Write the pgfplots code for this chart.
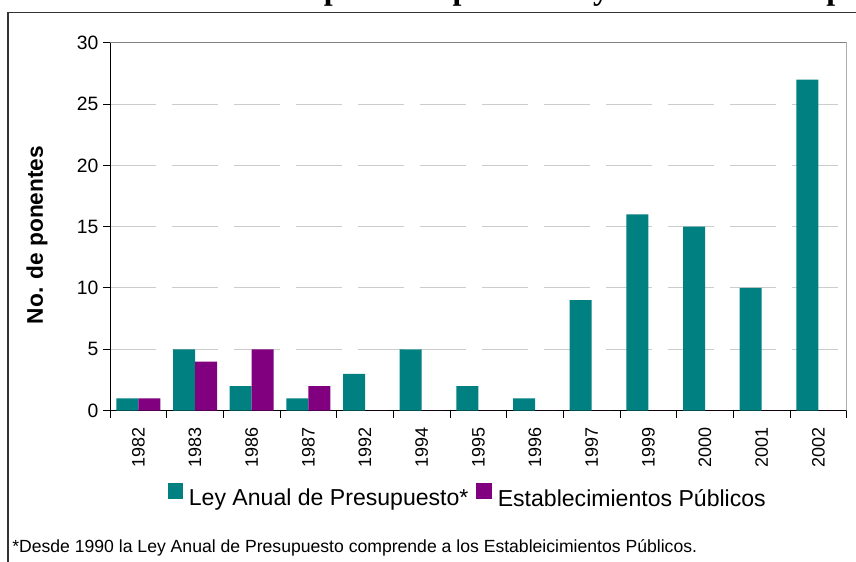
\documentclass[border=0pt]{standalone}
\usepackage{pgfplots}
\pgfplotsset{compat=1.18}
\usepackage{fontspec}
\setmainfont{Liberation Sans}
\newfontfamily\titlefont{Liberation Serif}
\definecolor{tealbar}{HTML}{008080}
\definecolor{purpbar}{HTML}{800080}
\begin{document}
\begin{tikzpicture}
\useasboundingbox (0,0) rectangle (642pt,-420.75pt);
\clip (0,0) rectangle (642pt,-420.75pt);
\node[anchor=base west, inner sep=0pt, font=\titlefont\bfseries\fontsize{24pt}{28pt}\selectfont] at (10.5pt,0.6pt) {Gráfico 1: Número de ponentes para la Ley Anual de Presupuesto};
\draw[line width=1pt, black!80] (6pt,-450pt) -- (6pt,-9.4pt) -- (700pt,-9.4pt);
\begin{axis}[
  at={(82.5pt,-307.9pt)}, anchor=south west,
  scale only axis, width=552.5pt, height=275.8pt,
  xmin=-0.5, xmax=12.5, ymin=0, ymax=30,
  ybar=0pt, bar width=16.5pt,
  axis x line*=bottom, axis y line*=left,
  axis line style={black, line width=0.75pt, -},
  xtick={-0.5,0.5,...,12.5}, xticklabels={},
  extra x ticks={0,1,2,3,4,5,6,7,8,9,10,11,12},
  extra x tick labels={1982,1983,1986,1987,1992,1994,1995,1996,1997,1999,2000,2001,2002},
  extra x tick style={tick style={draw=none}},
  ytick={0,5,...,30},
  tick align=outside, major tick length=5.25pt,
  tick style={black, line width=0.75pt},
  ymajorgrids,
  y grid style={draw=gray!40, line width=0.75pt, dash pattern=on 34.5pt off 12pt},
  xticklabel style={rotate=90, anchor=east, inner xsep=7.5pt, font=\fontsize{13.5pt}{15pt}\selectfont},
  yticklabel style={font=\fontsize{14.5pt}{16pt}\selectfont},
  /pgf/number format/assume math mode=true,
  legend style={draw=none, fill=none, at={(0.486,-0.235)}, anchor=center,
    legend columns=-1, font=\fontsize{17.3pt}{20pt}\selectfont,
    /tikz/every odd column/.append style={column sep=2.5pt},
    /tikz/every even column/.append style={column sep=4pt}},
  legend image code/.code={\fill[#1] (0pt,0pt) rectangle (11.5pt,11.5pt);},
]
\addplot[fill=tealbar, draw=none] coordinates {(0,1) (1,5) (2,2) (3,1) (4,3) (5,5) (6,2) (7,1) (8,9) (9,16) (10,15) (11,10) (12,27)};
\addplot[fill=purpbar, draw=none] coordinates {(0,1) (1,4) (2,5) (3,2) (4,0) (5,0) (6,0) (7,0) (8,0) (9,0) (10,0) (11,0) (12,0)};
\legend{Ley Anual de Presupuesto*, Establecimientos Públicos}
\draw[gray, line width=0.75pt] (rel axis cs:0,1) -- (rel axis cs:1,1) -- (rel axis cs:1,0);
\end{axis}
\node[rotate=90, font=\bfseries\fontsize{17pt}{20pt}\selectfont] at (27.75pt,-176.25pt) {No. de ponentes};
\node[anchor=base west, inner sep=0pt, font=\fontsize{13.2pt}{15pt}\selectfont] at (9pt,-414pt) {*Desde 1990 la Ley Anual de Presupuesto comprende a los Estableicimientos Públicos.};
\end{tikzpicture}
\end{document}
